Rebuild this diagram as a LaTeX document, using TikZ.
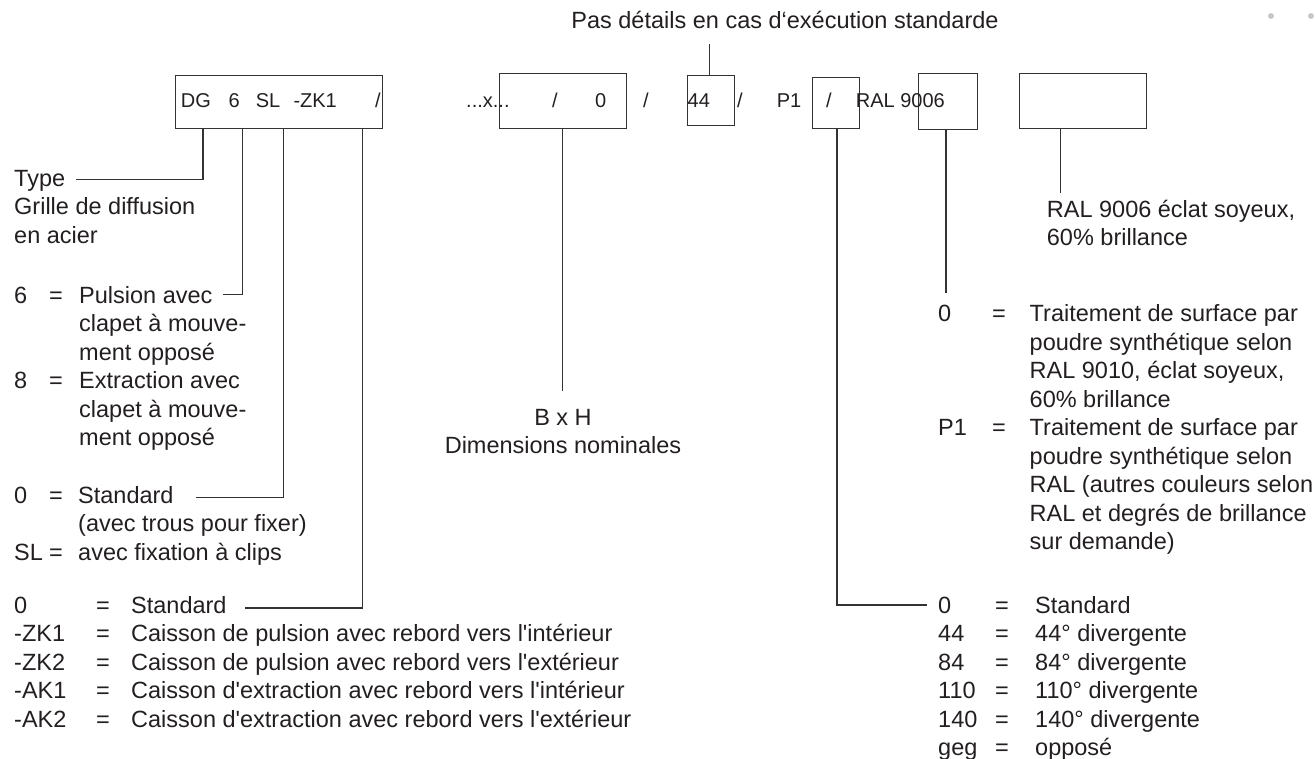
\documentclass[tikz,border=0pt]{standalone}
\usepackage{fontspec}
\setmainfont{Liberation Sans}
\definecolor{ink}{HTML}{231F20}
\definecolor{ln}{HTML}{333333}
\newcommand\descf{\fontsize{23.5}{28.3}\selectfont}
\newcommand\codef{\fontsize{20}{24}\selectfont}
\newcommand\apo{\textquotesingle}
\tikzset{
  txt/.style={anchor=base west, inner sep=0pt, font=\descf, text=ink},
  ctxt/.style={anchor=base, inner sep=0pt, font=\descf, text=ink},
  cod/.style={anchor=base west, inner sep=0pt, font=\codef, text=ink},
  codebox/.style={draw=ln, line width=1.2pt, anchor=north west, inner sep=0pt},
  conn/.style={draw=ln, line width=1.1pt},
  dot/.style={circle, fill=black!22, inner sep=0pt, minimum size=6pt}
}
\begin{document}
\begin{tikzpicture}[x=1pt,y=-1pt]
\useasboundingbox (0,0) rectangle (1315,758);
% grey dots
\node[dot] (d1) at (1271,16) {};
\node[dot] (d2) at (1311,16) {};
% header
\node[ctxt] (hdr) at (785,28) {Pas détails en cas d‘exécution standarde};
% boxes
\node[codebox, minimum width=207pt, minimum height=53pt] (b1) at (175,75) {};
\node[codebox, minimum width=127pt, minimum height=55pt] (b2) at (499,73) {};
\node[codebox, minimum width=47pt, minimum height=50pt] (b3) at (687,75) {};
\node[codebox, minimum width=47pt, minimum height=51pt] (b4) at (812,77) {};
\node[codebox, minimum width=59pt, minimum height=56pt] (b5) at (918,73) {};
\node[codebox, minimum width=127pt, minimum height=55pt] (b6) at (1019,73) {};
% code texts
\node[cod] (c1) at (180.7,107.7) {DG};
\node[cod] (c2) at (228.3,107.7) {6};
\node[cod] (c3) at (255.7,107.7) {SL};
\node[cod] (c4) at (293.3,107.7) {-ZK1};
\node[cod] (c5) at (375,107.7) {/};
\node[cod] (c6) at (466,107.7) {...x...};
\node[cod] (c7) at (552,107.7) {/};
\node[cod] (c8) at (595,107.7) {0};
\node[cod] (c9) at (643,107.7) {/};
\node[cod] (c10) at (687.5,107.7) {44};
\node[cod] (c11) at (737,107.7) {/};
\node[cod] (c12) at (776.7,107.7) {P1};
\node[cod] (c13) at (826,107.7) {/};
\node[cod] (c14) at (855.7,107.7) {RAL 9006};
% left column texts
\node[txt] (ty) at (14,186) {Type};
\node[txt] (ty2) at (14,214.5) {Grille de diffusion};
\node[txt] (ty3) at (14,243) {en acier};
\node[txt] (n6) at (14,303) {6};
\node[txt] (e6) at (49,303) {=};
\node[txt] (p6) at (79,303) {Pulsion avec};
\node[txt] (p6b) at (79,331.5) {clapet à mouve-};
\node[txt] (p6c) at (79,360) {ment opposé};
\node[txt] (n8) at (14,388.5) {8};
\node[txt] (e8) at (49,388.5) {=};
\node[txt] (p8) at (79,388.5) {Extraction avec};
\node[txt] (p8b) at (79,417) {clapet à mouve-};
\node[txt] (p8c) at (79,445.5) {ment opposé};
% block 2
\node[txt] (s0) at (14,503) {0};
\node[txt] (se0) at (49,503) {=};
\node[txt] (st0) at (78,503) {Standard};
\node[txt] (st0b) at (78,531.5) {(avec trous pour fixer)};
\node[txt] (sl) at (14,560) {SL};
\node[txt] (sle) at (49,560) {=};
\node[txt] (slt) at (78,560) {avec fixation à clips};
% block 3
\node[txt] (k0) at (14,613) {0};
\node[txt] (ke0) at (96,613) {=};
\node[txt] (kt0) at (131,613) {Standard};
\node[txt] (k1) at (14,641.5) {-ZK1};
\node[txt] (ke1) at (96,641.5) {=};
\node[txt] (kt1) at (131,641.5) {Caisson de pulsion avec rebord vers l\apo intérieur};
\node[txt] (k2) at (14,670) {-ZK2};
\node[txt] (ke2) at (96,670) {=};
\node[txt] (kt2) at (131,670) {Caisson de pulsion avec rebord vers l\apo extérieur};
\node[txt] (k3) at (14,698.5) {-AK1};
\node[txt] (ke3) at (96,698.5) {=};
\node[txt] (kt3) at (131,698.5) {Caisson d\apo extraction avec rebord vers l\apo intérieur};
\node[txt] (k4) at (14,727) {-AK2};
\node[txt] (ke4) at (96,727) {=};
\node[txt] (kt4) at (131,727) {Caisson d\apo extraction avec rebord vers l\apo extérieur};
% dimensions
\node[ctxt] (bh) at (563,425) {B x H};
\node[ctxt] (dn) at (563,453.5) {Dimensions nominales};
% RAL 9006
\node[txt] (r1) at (1046.7,217) {RAL 9006 éclat soyeux,};
\node[txt] (r2) at (1046.7,245.5) {60\% brillance};
% right upper block
\node[txt] (u0) at (938,321.7) {0};
\node[txt] (ue0) at (992,321.7) {=};
\node[txt] (ut1) at (1029.5,321.7) {Traitement de surface par};
\node[txt] (ut2) at (1029.5,350.2) {poudre synthétique selon};
\node[txt] (ut3) at (1029.5,378.7) {RAL 9010, éclat soyeux,};
\node[txt] (ut4) at (1029.5,407.2) {60\% brillance};
\node[txt] (u1) at (938,435.7) {P1};
\node[txt] (ue1) at (992,435.7) {=};
\node[txt] (ut5) at (1029.5,435.7) {Traitement de surface par};
\node[txt] (ut6) at (1029.5,464.2) {poudre synthétique selon};
\node[txt] (ut7) at (1029.5,492.7) {RAL (autres couleurs selon};
\node[txt] (ut8) at (1029.5,521.2) {RAL et degrés de brillance};
\node[txt] (ut9) at (1029.5,549.7) {sur demande)};
% right lower block
\node[txt] (w0) at (938,613) {0};
\node[txt] (we0) at (995,613) {=};
\node[txt] (wt0) at (1035,613) {Standard};
\node[txt] (w1) at (938,641.5) {44};
\node[txt] (we1) at (995,641.5) {=};
\node[txt] (wt1) at (1035,641.5) {44° divergente};
\node[txt] (w2) at (938,670) {84};
\node[txt] (we2) at (995,670) {=};
\node[txt] (wt2) at (1035,670) {84° divergente};
\node[txt] (w3) at (938,698.5) {110};
\node[txt] (we3) at (995,698.5) {=};
\node[txt] (wt3) at (1035,698.5) {110° divergente};
\node[txt] (w4) at (938,727) {140};
\node[txt] (we4) at (995,727) {=};
\node[txt] (wt4) at (1035,727) {140° divergente};
\node[txt] (w5) at (938,755.5) {geg};
\node[txt] (we5) at (995,755.5) {=};
\node[txt] (wt5) at (1035,755.5) {opposé};
% connector end points
\coordinate (hdrb) at (709.3,44);
\coordinate (tyE) at (76,179.3);
\coordinate (p6E) at (222.7,294.3);
\coordinate (st0E) at (196.4,497.7);
\coordinate (kt0E) at (244.6,608);
\coordinate (bhT) at (562.7,391);
\coordinate (w0E) at (927,605);
\coordinate (u0T) at (946,293);
\coordinate (r1T) at (1060.7,193);
% connectors
\draw[conn] (hdrb) -- (hdrb |- b3.north);
\draw[conn] (b1.south -| 203,0) |- (tyE);
\draw[conn] (b1.south -| 242.5,0) |- (p6E);
\draw[conn] (b1.south -| 283.3,0) |- (st0E);
\draw[conn] (b1.south -| 362.7,0) |- (kt0E);
\draw[conn] (b2.south -| bhT) -- (bhT);
\draw[conn] (b4.south -| 837,0) |- (w0E);
\draw[conn] (b5.south -| u0T) -- (u0T);
\draw[conn] (b6.south -| r1T) -- (r1T);
\end{tikzpicture}
\end{document}
